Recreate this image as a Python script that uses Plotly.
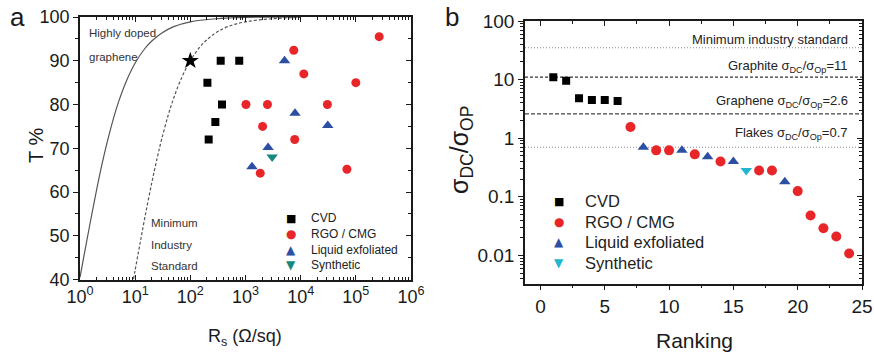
import plotly.graph_objects as go

# ---------------- data: panel a ----------------
cvd_rs = [355, 770, 204, 375, 284, 215]
cvd_t = [90, 90, 85, 80, 76, 72]
rgo_rs = [7500, 11400, 265000, 100000, 1020, 2500, 30500, 2040, 7800, 1850, 69000]
rgo_t = [92.4, 87, 95.5, 85, 80, 80, 80, 75, 72, 64.3, 65.2]
liq_rs = [5100, 7900, 31000, 2570, 1310]
liq_t = [90, 78, 75.2, 70.2, 65.8]
syn_rs = [3040]
syn_t = [68]
star_rs = [100]
star_t = [90]

# curves
doped_rs = [1, 1.2, 1.5, 2, 2.5, 3, 4, 5, 7, 10, 15, 20, 30, 50, 100, 300, 1000, 10000]
doped_t = [40.5, 45.9, 52.4, 60.5, 66.3, 70.6, 76.6, 80.6, 85.5, 89.5, 92.8, 94.5, 96.3, 97.8, 98.9, 99.6, 99.9, 100]
minstd_rs = [9.3, 10, 12, 15, 20, 25, 30, 40, 50, 70, 100, 150, 200, 300, 500, 1000, 3000, 10000]
minstd_t = [40.1, 42.2, 47.6, 54.2, 62.1, 67.7, 71.9, 77.7, 81.5, 86.2, 90.0, 93.2, 94.8, 96.5, 97.9, 98.9, 99.6, 99.9]

a_xtick_vals = [1, 10, 100, 1000, 10000, 100000, 1000000]
a_xtick_text = ["10<sup>0</sup>", "10<sup>1</sup>", "10<sup>2</sup>", "10<sup>3</sup>",
                "10<sup>4</sup>", "10<sup>5</sup>", "10<sup>6</sup>"]
a_ytick_vals = [40, 50, 60, 70, 80, 90, 100]

# ---------------- data: panel b ----------------
b_cvd_rank = [1, 2, 3, 4, 5, 6]
b_cvd_val = [11, 9.6, 4.8, 4.5, 4.5, 4.3]
b_rgo_rank = [7, 9, 10, 12, 14, 17, 18, 20, 21, 22, 23, 24]
b_rgo_val = [1.55, 0.62, 0.62, 0.53, 0.40, 0.28, 0.28, 0.125, 0.048, 0.029, 0.021, 0.0108]
b_liq_rank = [8, 11, 13, 15, 19]
b_liq_val = [0.70, 0.62, 0.48, 0.40, 0.18]
b_syn_rank = [16]
b_syn_val = [0.28]

ref_names = ["Minimum industry standard", "Graphite", "Graphene", "Flakes"]
ref_vals = [35, 11, 2.6, 0.7]
ref_labels = ["Minimum industry standard",
              "Graphite σ<sub>DC</sub>/σ<sub>Op</sub>=11",
              "Graphene σ<sub>DC</sub>/σ<sub>Op</sub>=2.6",
              "Flakes σ<sub>DC</sub>/σ<sub>Op</sub>=0.7"]
b_ytick_vals = [0.01, 0.1, 1, 10, 100]
b_ytick_text = ["0.01", "0.1", "1", "10", "100"]
b_xtick_vals = [0, 5, 10, 15, 20, 25]

series_names = ["CVD", "RGO / CMG", "Liquid exfoliated", "Synthetic"]

# ---------------- styling ----------------
W, H = 874, 356
FONT = "Liberation Sans, Arial, sans-serif"
RED = "#e8262a"
BLUE = "#2c4ea3"
TEAL = "#17877f"
CYAN = "#22b6cf"
AX = "#1a1a1a"


def px(x):
    return x / W


def py(y):
    return 1 - y / H


fig = go.Figure()

# panel a curves
fig.add_trace(go.Scatter(x=doped_rs, y=doped_t, mode="lines", line=dict(color="#555", width=1.2, shape="spline"),
                         showlegend=False, xaxis="x", yaxis="y", hoverinfo="skip"))
fig.add_trace(go.Scatter(x=minstd_rs, y=minstd_t, mode="lines",
                         line=dict(color="#555", width=1.2, dash="3px,2px", shape="spline"),
                         showlegend=False, xaxis="x", yaxis="y", hoverinfo="skip"))

# panel a markers
fig.add_trace(go.Scatter(x=cvd_rs, y=cvd_t, mode="markers", name=series_names[0], showlegend=False,
                         marker=dict(symbol="square", size=8, color="black"), xaxis="x", yaxis="y"))
fig.add_trace(go.Scatter(x=rgo_rs, y=rgo_t, mode="markers", name=series_names[1], showlegend=False,
                         marker=dict(symbol="circle", size=9, color=RED), xaxis="x", yaxis="y"))
fig.add_trace(go.Scatter(x=liq_rs, y=liq_t, mode="markers", name=series_names[2], showlegend=False,
                         marker=dict(symbol="triangle-up", size=10, color=BLUE), xaxis="x", yaxis="y"))
fig.add_trace(go.Scatter(x=syn_rs, y=syn_t, mode="markers", name=series_names[3], showlegend=False,
                         marker=dict(symbol="triangle-down", size=10, color=TEAL), xaxis="x", yaxis="y"))
fig.add_trace(go.Scatter(x=star_rs, y=star_t, mode="markers", showlegend=False,
                         marker=dict(symbol="star", size=13, color="black"), xaxis="x", yaxis="y"))

# panel b reference lines
ref_styles = [dict(color="#8a8a8a", width=1.1, dash="1px,2px"),
              dict(color="#333", width=1.3, dash="3px,2px"),
              dict(color="#444", width=1.3, dash="4px,2px"),
              dict(color="#8a8a8a", width=1.1, dash="1px,2px")]
for nm, v, st in zip(ref_names, ref_vals, ref_styles):
    fig.add_trace(go.Scatter(x=[-1.2, 25], y=[v, v], mode="lines", line=st, showlegend=False,
                             xaxis="x2", yaxis="y2", hoverinfo="skip", name=nm))

# panel b markers
fig.add_trace(go.Scatter(x=b_cvd_rank, y=b_cvd_val, mode="markers", name=series_names[0], showlegend=False,
                         marker=dict(symbol="square", size=8, color="black"), xaxis="x2", yaxis="y2"))
fig.add_trace(go.Scatter(x=b_rgo_rank, y=b_rgo_val, mode="markers", name=series_names[1], showlegend=False,
                         marker=dict(symbol="circle", size=10, color=RED), xaxis="x2", yaxis="y2"))
fig.add_trace(go.Scatter(x=b_liq_rank, y=b_liq_val, mode="markers", name=series_names[2], showlegend=False,
                         marker=dict(symbol="triangle-up", size=10, color=BLUE), xaxis="x2", yaxis="y2"))
fig.add_trace(go.Scatter(x=b_syn_rank, y=b_syn_val, mode="markers", name=series_names[3], showlegend=False,
                         marker=dict(symbol="triangle-down", size=10, color=CYAN), xaxis="x2", yaxis="y2"))

# empty traces so the mirror (top / right) axes get drawn
fig.add_trace(go.Scatter(x=[], y=[], xaxis="x3", yaxis="y3", showlegend=False))
fig.add_trace(go.Scatter(x=[], y=[], xaxis="x4", yaxis="y4", showlegend=False))

a_dom_x = [px(80), px(411)]
a_dom_y = [py(279.5), py(17)]
b_dom_x = [px(525), px(862)]
b_dom_y = [py(283.5), py(21)]

a_minor_x = [m * 10 ** e for e in range(0, 6) for m in range(2, 10)]
b_minor_y = [m * 10 ** e for e in range(-3, 2) for m in range(2, 10)]

common = dict(showgrid=False, zeroline=False, linecolor=AX, linewidth=1.5, tickcolor=AX, tickwidth=1.3,
              automargin=False)
fa = dict(family=FONT, size=18, color="#1a1a1a")
fb = dict(family=FONT, size=19, color="#1a1a1a")


def mn(d, side):
    return dict(ticks=side, ticklen=3, tickcolor=AX, tickwidth=1, **d)


fig.update_layout(
    width=W, height=H, margin=dict(l=0, r=0, t=0, b=0, pad=0, autoexpand=False),
    paper_bgcolor="white", plot_bgcolor="white",
    font=dict(family=FONT, color="#1a1a1a"),
    showlegend=False,
    xaxis=dict(domain=a_dom_x, type="log", range=[0, 6], anchor="y", tickmode="array",
               tickvals=a_xtick_vals, ticktext=a_xtick_text, ticks="inside", ticklen=5, tickfont=fa,
               minor=mn(dict(tickvals=a_minor_x), "inside"), **common),
    yaxis=dict(domain=a_dom_y, range=[40, 100], anchor="x", tickmode="array", tickvals=a_ytick_vals,
               ticks="outside", ticklen=5, tickfont=fa, minor=mn(dict(dtick=5), "outside"), **common),
    xaxis3=dict(domain=a_dom_x, type="log", range=[0, 6], anchor="y3", overlaying="x", side="top",
                tickmode="array", tickvals=a_xtick_vals, showticklabels=False, ticks="inside", ticklen=5,
                minor=mn(dict(tickvals=a_minor_x), "inside"), **common),
    yaxis3=dict(domain=a_dom_y, range=[40, 100], anchor="x3", overlaying="y", side="right",
                tickmode="array", tickvals=a_ytick_vals, showticklabels=False, ticks="inside", ticklen=5,
                minor=mn(dict(dtick=5), "inside"), **common),
    xaxis2=dict(domain=b_dom_x, range=[-1.2, 25], anchor="y2", tickmode="array", tickvals=b_xtick_vals,
                ticks="outside", ticklen=5, tickfont=fb, minor=mn(dict(dtick=2.5), "outside"), **common),
    yaxis2=dict(domain=b_dom_y, type="log", range=[-2.48, 2.0], anchor="x2", tickmode="array",
                tickvals=b_ytick_vals, ticktext=b_ytick_text, ticks="outside", ticklen=5, tickfont=fb,
                minor=mn(dict(tickvals=b_minor_y), "outside"), **common),
    xaxis4=dict(domain=b_dom_x, range=[-1.2, 25], anchor="y4", overlaying="x2", side="top",
                tickmode="array", tickvals=b_xtick_vals, showticklabels=False, ticks="inside", ticklen=5,
                minor=mn(dict(dtick=2.5), "inside"), **common),
    yaxis4=dict(domain=b_dom_y, type="log", range=[-2.48, 2.0], anchor="x4", overlaying="y2", side="right",
                tickmode="array", tickvals=b_ytick_vals, showticklabels=False, ticks="inside", ticklen=5,
                minor=mn(dict(tickvals=b_minor_y), "inside"), **common),
)

ann = []
# panel letters
ann.append(dict(text="a", x=px(17), y=py(17), font=dict(size=26, family=FONT)))
ann.append(dict(text="b", x=px(452), y=py(17), font=dict(size=26, family=FONT)))
# axis titles
ann.append(dict(text="T %", x=px(36), y=py(146), textangle=-90, font=dict(size=20, family=FONT)))
ann.append(dict(text="R<sub>s</sub> (Ω/sq)", x=px(245), y=py(337), font=dict(size=18, family=FONT)))
ann.append(dict(text="σ<sub>DC</sub>/σ<sub>OP</sub>", x=px(461), y=py(150), textangle=-90,
                font=dict(size=25, family=FONT)))
ann.append(dict(text="Ranking", x=px(694), y=py(340), font=dict(size=21, family=FONT)))
# panel a curve labels
for t, yy in [("Highly doped", 33), ("graphene", 57)]:
    ann.append(dict(text=t, x=px(87), y=py(yy), xanchor="left", font=dict(size=11.5, family=FONT, color="#333")))
for t, yy in [("Minimum", 223), ("Industry", 245), ("Standard", 266)]:
    ann.append(dict(text=t, x=px(149), y=py(yy), xanchor="left", font=dict(size=11.5, family=FONT, color="#333")))
# panel b reference labels
for t, yy in zip(ref_labels, [39, 67, 101, 134]):
    ann.append(dict(text=t, x=px(850), y=py(yy), xanchor="right", font=dict(size=13, family=FONT, color="#222")))

# legends (symbol glyph + label)
glyphs = ["■", "●", "▲", "▼"]
a_cols = ["black", RED, BLUE, TEAL]
b_cols = ["black", RED, BLUE, CYAN]
a_rows = [218, 234, 249.5, 265]
b_rows = [201, 221.7, 241.7, 263.3]
GF = "DejaVu Sans"
for g, c, nm, yy in zip(glyphs, a_cols, series_names, a_rows):
    ann.append(dict(text=g, x=px(291), y=py(yy), font=dict(size=11 if g == "■" else 12, family=GF, color=c)))
    ann.append(dict(text=nm, x=px(309), y=py(yy), xanchor="left", font=dict(size=12, family=FONT, color="#222")))
for g, c, nm, yy in zip(glyphs, b_cols, series_names, b_rows):
    ann.append(dict(text=g, x=px(559), y=py(yy), font=dict(size=11 if g == "■" else 12, family=GF, color=c)))
    ann.append(dict(text=nm, x=px(583), y=py(yy), xanchor="left", font=dict(size=16.5, family=FONT, color="#222")))

for a in ann:
    a.setdefault("xref", "paper")
    a.setdefault("yref", "paper")
    a.setdefault("showarrow", False)
    a.setdefault("xanchor", "center")
    a.setdefault("yanchor", "middle")
fig.update_layout(annotations=ann)

# remove the default 8px page margin so the figure fills the window exactly; hide the modebar
fig.write_html("out.html", config={"displayModeBar": False},
               post_script="document.body.style.margin='0';document.body.style.overflow='hidden';")
